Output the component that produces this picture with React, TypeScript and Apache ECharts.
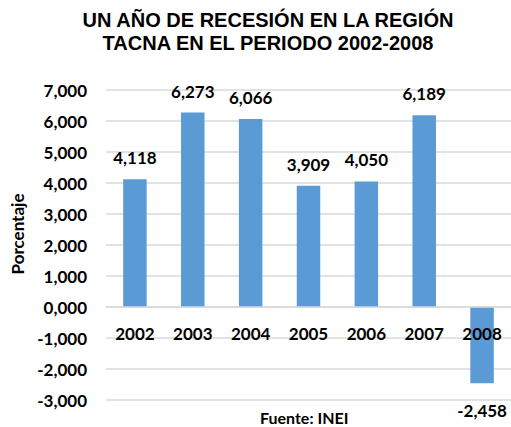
import React, { useEffect, useRef } from "react";
import * as echarts from "echarts";

const categories = ["2002", "2003", "2004", "2005", "2006", "2007", "2008"];
const values = [4.118, 6.273, 6.066, 3.909, 4.05, 6.189, -2.458];
const titleLines = ["UN AÑO DE RECESIÓN EN LA REGIÓN", "TACNA EN EL PERIODO 2002-2008"];
const yAxisName = "Porcentaje";
const sourceText = "Fuente: INEI";

const fmt = (v: number) => v.toFixed(3).replace(".", ",");
const FONT = "Lato, 'Open Sans', sans-serif";

export default function App() {
  const ref = useRef<HTMLDivElement>(null);
  useEffect(() => {
    if (!ref.current) return;
    const chart = echarts.init(ref.current, null, { renderer: "svg" });
    chart.setOption({
      animation: false,
      backgroundColor: "#ffffff",
      graphic: [
        {
          type: "text",
          x: 268,
          y: 8,
          style: {
            text: titleLines.join("\n"),
            font: "bold 20px 'Liberation Sans', Arial, sans-serif",
            fill: "#000",
            align: "center",
            verticalAlign: "top",
            lineHeight: 23,
          },
          silent: true,
        },
        {
          type: "text",
          x: 17,
          y: 234,
          rotation: Math.PI / 2,
          style: {
            text: yAxisName,
            font: `bold 17px ${FONT}`,
            fill: "#000",
            align: "center",
            verticalAlign: "middle",
          },
          silent: true,
        },
        {
          type: "text",
          x: 260,
          y: 409,
          style: {
            text: sourceText,
            font: `bold 16px ${FONT}`,
            fill: "#000",
          },
          silent: true,
        },
      ],
      grid: { left: 106, top: 90, width: 408, height: 310, containLabel: false },
      xAxis: {
        type: "category",
        data: categories,
        z: 10,
        offset: -93,
        axisLine: { show: true, onZero: false, lineStyle: { color: "#D9D9D9", width: 1.5 } },
        axisTick: { show: false },
        axisLabel: {
          margin: 18,
          color: "#000",
          fontFamily: FONT,
          fontWeight: "bold",
          fontSize: 17,
        },
      },
      yAxis: {
        type: "value",
        min: -3,
        max: 7,
        interval: 1,
        axisLine: { show: false },
        axisTick: { show: false },
        splitLine: { lineStyle: { color: "#D9D9D9", width: 1.5 } },
        axisLabel: {
          margin: 19,
          formatter: (v: number) => fmt(v),
          color: "#000",
          fontFamily: FONT,
          fontWeight: "bold",
          fontSize: 17,
        },
      },
      series: [
        {
          type: "bar",
          data: values.map((v) => ({
            value: v,
            label: { position: v < 0 ? "bottom" : "top", distance: v < 0 ? 19 : 13 },
          })),
          barWidth: 23.5,
          itemStyle: { color: "#5B9BD5" },
          label: {
            show: true,
            formatter: (p: any) => fmt(p.value),
            color: "#000",
            fontFamily: FONT,
            fontWeight: "bold",
            fontSize: 17,
          },
        },
      ],
    });
    return () => chart.dispose();
  }, []);
  return <div ref={ref} style={{ position: "fixed", left: 0, top: 0, width: 511, height: 427 }} />;
}
